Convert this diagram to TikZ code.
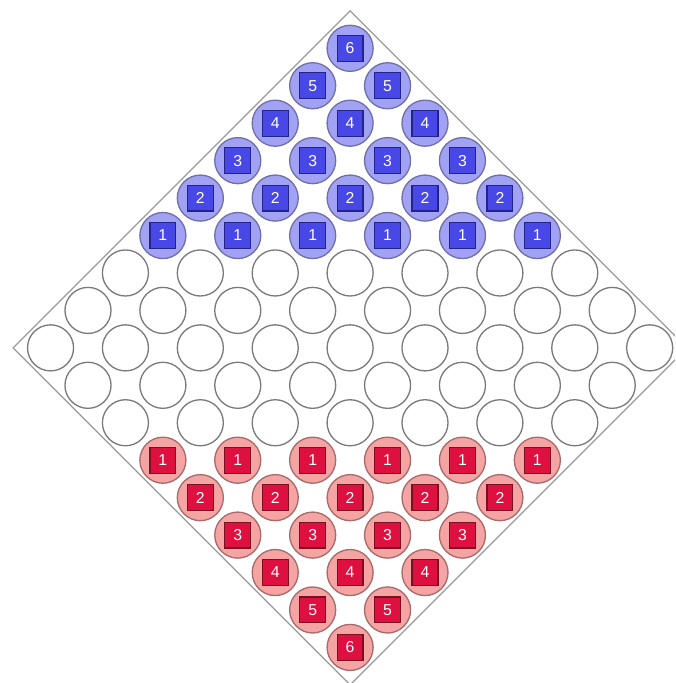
\documentclass[tikz,border=0pt]{standalone}
\usepackage{fontspec}
\setsansfont{Liberation Sans}

\definecolor{boardgray}{HTML}{9A9A9A}
\definecolor{holegray}{HTML}{7A7A7A}
\definecolor{bluefill}{HTML}{A2A2F4}
\definecolor{blueedge}{HTML}{7070A8}
\definecolor{bluesq}{HTML}{4848E6}
\definecolor{bluesqedge}{HTML}{23238A}
\definecolor{redfill}{HTML}{F4A4A2}
\definecolor{rededge}{HTML}{A86A6A}
\definecolor{redsq}{HTML}{DE1040}
\definecolor{redsqedge}{HTML}{7A1020}

\tikzset{
  hole/.style={circle,draw=holegray,fill=white,line width=1pt,minimum size=1.23cm,inner sep=0pt},
  bluehole/.style={hole,fill=bluefill,draw=blueedge},
  redhole/.style={hole,fill=redfill,draw=rededge},
  piece/.style={rectangle,line width=0.9pt,minimum size=0.69cm,inner sep=0pt,
    text=white,font=\sffamily\fontsize{12}{13}\selectfont},
  bluepiece/.style={piece,fill=bluesq,draw=bluesqedge},
  redpiece/.style={piece,fill=redsq,draw=redsqedge}
}

\begin{document}
\begin{tikzpicture}[x=1cm,y=1cm]
\useasboundingbox (-9.35,-8.95) rectangle (8.68,9.29);
\clip (-9.35,-8.95) rectangle (8.68,9.29);
% board outline
\draw[boardgray,line width=1pt] (0,9) -- (9,0) -- (0,-9) -- (-9,0) -- cycle;
% holes, row by row
\foreach \j in {-8,...,8} {
  \pgfmathtruncatemacro\n{8-abs(\j)}
  \foreach \k in {0,...,\n} {
    \pgfmathtruncatemacro\i{2*\k-\n}
    \ifnum\j>2
      \pgfmathtruncatemacro\num{\j-2}
      \node[bluehole] (hole-\i-\j) at (\i,\j) {};
      \node[bluepiece] (piece-\i-\j) at (hole-\i-\j) {\num};
    \else\ifnum\j<-2
      \pgfmathtruncatemacro\num{-\j-2}
      \node[redhole] (hole-\i-\j) at (\i,\j) {};
      \node[redpiece] (piece-\i-\j) at (hole-\i-\j) {\num};
    \else
      \node[hole] (hole-\i-\j) at (\i,\j) {};
    \fi\fi
  }
}
\end{tikzpicture}
\end{document}
